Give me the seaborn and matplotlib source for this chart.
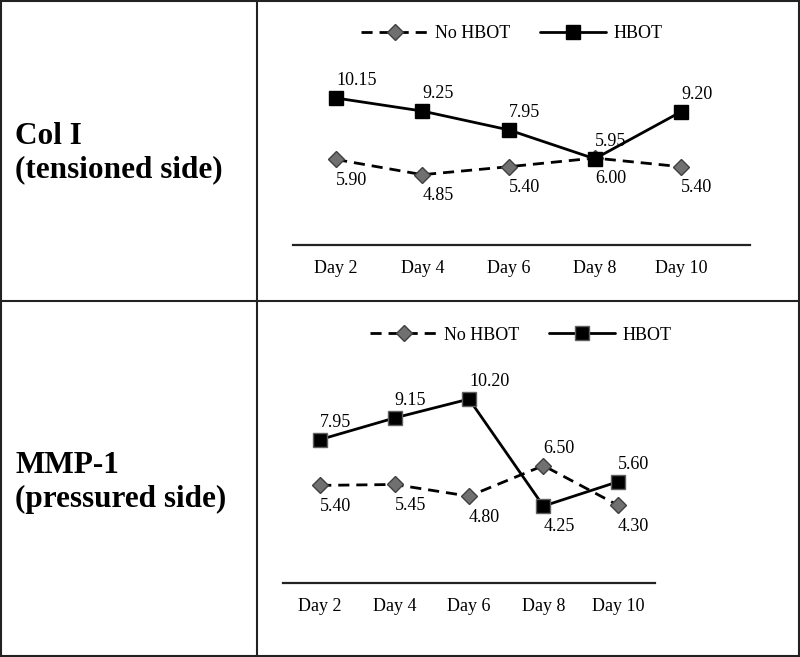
import pandas as pd
import matplotlib.pyplot as plt
import seaborn as sns
from matplotlib.lines import Line2D

days = ['Day 2', 'Day 4', 'Day 6', 'Day 8', 'Day 10']

col1_hbot = [10.15, 9.25, 7.95, 5.95, 9.20]
col1_no_hbot = [5.90, 4.85, 5.40, 6.00, 5.40]

mmp1_hbot = [7.95, 9.15, 10.20, 4.25, 5.60]
mmp1_no_hbot = [5.40, 5.45, 4.80, 6.50, 4.30]

sns.set_style('white')
plt.rcParams['font.family'] = ['Liberation Serif', 'DejaVu Serif']
plt.rcParams['text.color'] = 'black'
plt.rcParams['xtick.color'] = 'black'
plt.rcParams['xtick.labelcolor'] = 'black'

W, H = 800, 657
fig = plt.figure(figsize=(W / 100, H / 100), dpi=100)


def px_axes(left, right, zero_y, top_y):
    # pixel box -> figure fraction
    return fig.add_axes([left / W, (H - zero_y) / H, (right - left) / W, (zero_y - top_y) / H])


def draw_panel(ax, hbot, no_hbot, xmax, sq_edge, legend_xy):
    df = pd.DataFrame({'day': days * 2,
                       'value': no_hbot + hbot,
                       'group': ['No HBOT'] * 5 + ['HBOT'] * 5})
    no = df[df['group'] == 'No HBOT']
    hb = df[df['group'] == 'HBOT']
    sns.lineplot(data=no, x='day', y='value', ax=ax, color='black', lw=2,
                 marker='D', markersize=8, markerfacecolor='#707070',
                 markeredgecolor='#404040', markeredgewidth=1,
                 dashes=False, linestyle=(0, (4, 2.5)), sort=False, label='No HBOT')
    sns.lineplot(data=hb, x='day', y='value', ax=ax, color='black', lw=2,
                 marker='s', markersize=10, markerfacecolor='black',
                 markeredgecolor=sq_edge, markeredgewidth=1,
                 sort=False, label='HBOT')
    # label goes above the higher point, below the lower one (HBOT wins near-ties)
    for i, (h, n) in enumerate(zip(hbot, no_hbot)):
        h_up = h >= n - 0.1
        for v, up in [(h, h_up), (n, not h_up)]:
            ax.annotate(f'{v:.2f}', (i, v), xytext=(0, 12.5 if up else -15),
                        textcoords='offset points', ha='left', va='center',
                        fontsize=13, color='black')
    ax.set_xlim(-0.5, xmax)
    ax.set_ylim(0, 12)
    ax.set_xlabel('')
    ax.set_ylabel('')
    ax.set_yticks([])
    for s in ['top', 'left', 'right']:
        ax.spines[s].set_visible(False)
    ax.spines['bottom'].set_linewidth(1.6)
    ax.spines['bottom'].set_color('#222222')
    ax.tick_params(axis='x', length=0, pad=11, labelsize=13)
    ax.legend(loc='center', bbox_to_anchor=legend_xy, bbox_transform=fig.transFigure,
              ncol=2, frameon=False, fontsize=13, handlelength=3.7,
              columnspacing=1.6, handletextpad=0.4, labelcolor='black')
    ax.patch.set_alpha(0)


ax1 = px_axes(293, 750, 244.8, 71.3)
draw_panel(ax1, col1_hbot, col1_no_hbot, 4.8, 'black', (512 / W, 1 - 34 / H))

ax2 = px_axes(283, 655, 582.5, 366.7)
draw_panel(ax2, mmp1_hbot, mmp1_no_hbot, 4.5, '#606060', (521 / W, 1 - 335 / H))

# row labels
for txt, y in [('Col I', 144), ('(tensioned side)', 177),
               ('MMP-1', 473), ('(pressured side)', 507)]:
    fig.text(15 / W, 1 - y / H, txt, fontsize=22.5, fontweight='bold',
             ha='left', va='baseline', color='black')

# table grid
grid = dict(color='#222222', lw=1.5, transform=fig.transFigure)
fig.add_artist(Line2D([0.7 / W, 0.7 / W], [0, 1], **grid))
fig.add_artist(Line2D([799.3 / W, 799.3 / W], [0, 1], **grid))
fig.add_artist(Line2D([0, 1], [1 - 0.7 / H, 1 - 0.7 / H], **grid))
fig.add_artist(Line2D([0, 1], [1 - 656 / H, 1 - 656 / H], **grid))
fig.add_artist(Line2D([257 / W, 257 / W], [0, 1], **grid))
fig.add_artist(Line2D([0, 1], [1 - 301 / H, 1 - 301 / H], **grid))

fig.savefig('out.png', dpi=100)
plt.close()
